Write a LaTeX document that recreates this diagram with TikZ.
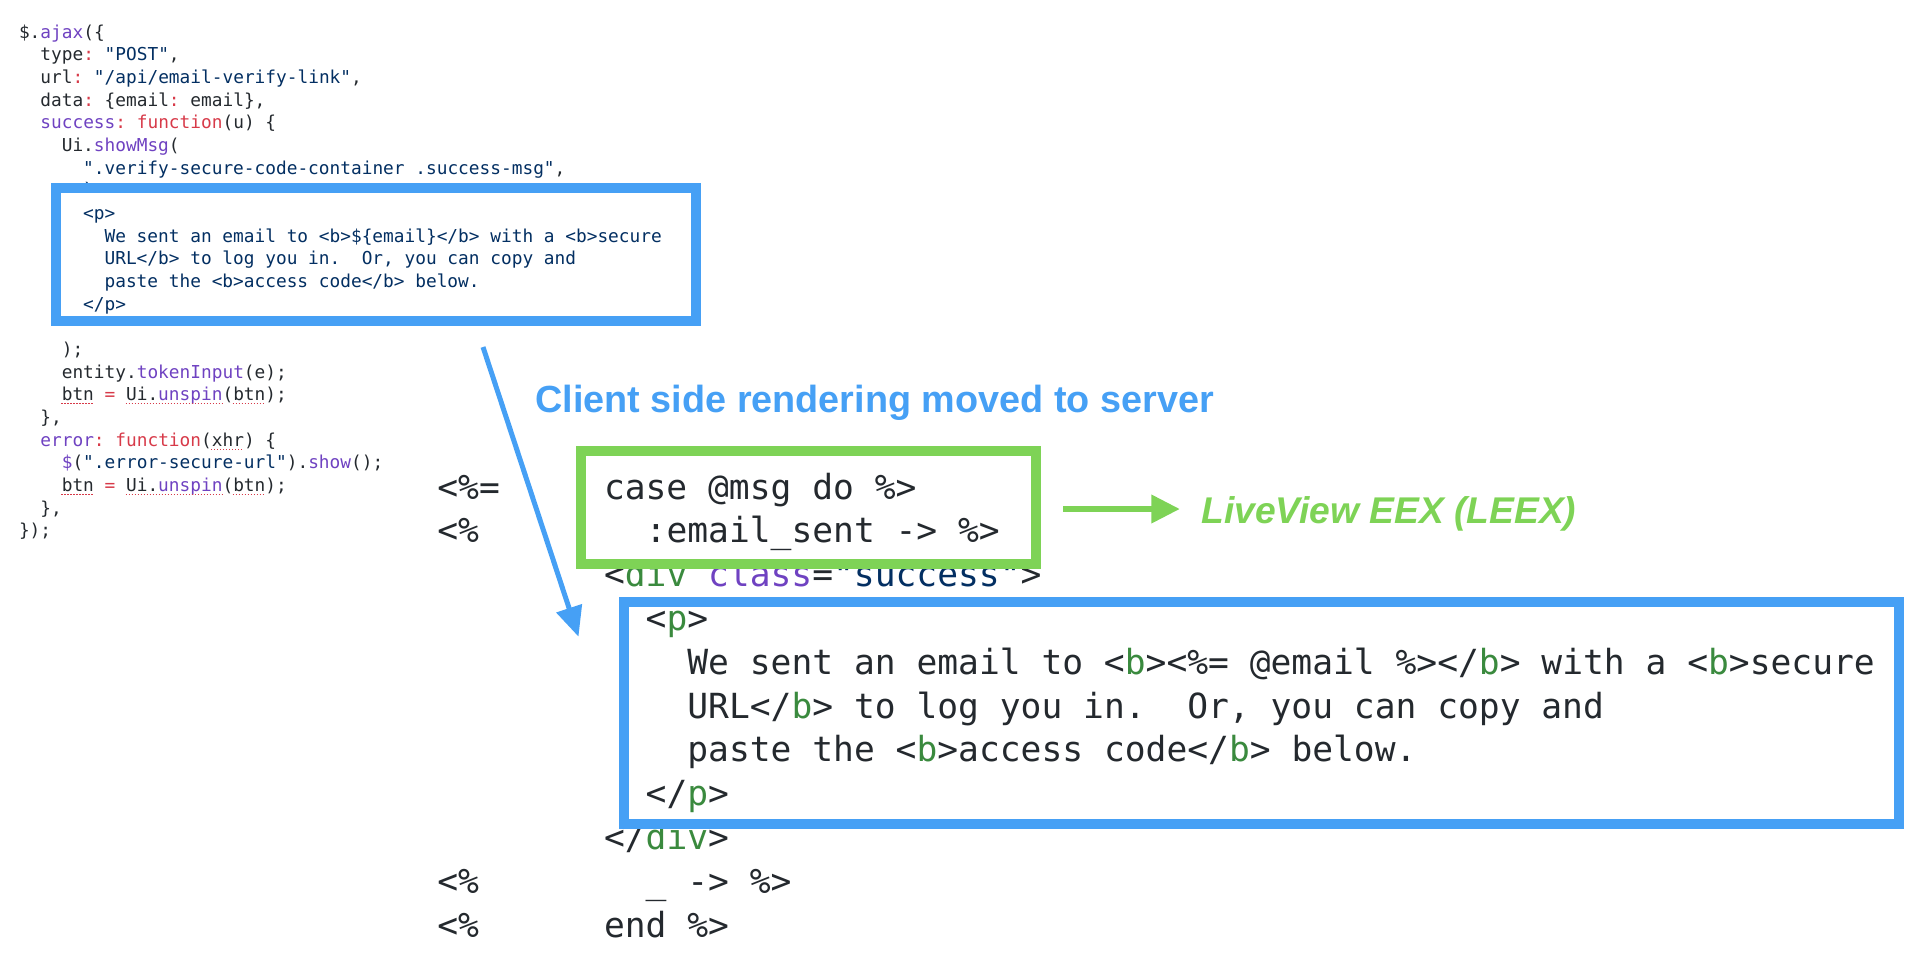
\documentclass[tikz,border=0pt]{standalone}
\usepackage{fontspec}
\setmonofont{DejaVu Sans Mono}
\setsansfont{Liberation Sans}
\usetikzlibrary{arrows.meta}
\definecolor{codedark}{HTML}{24292E}
\definecolor{codenavy}{HTML}{032F62}
\definecolor{codepurple}{HTML}{6F42C1}
\definecolor{codered}{HTML}{D73A49}
\definecolor{codegreen}{HTML}{3A8A3E}
\definecolor{boxblue}{HTML}{46A0F5}
\definecolor{boxgreen}{HTML}{7ED356}
\newcommand\jsfn[1]{\textcolor{codepurple}{#1}}
\newcommand\jsop[1]{\textcolor{codered}{#1}}
\newcommand\jsstr[1]{\textcolor{codenavy}{#1}}
\newcommand\htag[1]{\textcolor{codegreen}{#1}}
\begin{document}
\begin{tikzpicture}[x=0.5pt, y=-0.5pt,
    js/.style={anchor=base west, inner sep=0pt, text=codedark, font=\ttfamily\fontsize{8.9}{10}\selectfont},
    jsin/.style={js, text=codenavy},
    erb/.style={anchor=base west, inner sep=0pt, text=codedark, font=\ttfamily\fontsize{17.3}{20}\selectfont},
    codebox/.style={line width=5pt, fill=white},
    squiggle/.style={codered, line width=0.6pt, dash pattern=on 0.6pt off 0.9pt},
    hint/.style={anchor=base west, inner sep=0pt, font=\sffamily\bfseries\fontsize{18.9}{23}\selectfont}]
            \useasboundingbox (0,0) rectangle (1926,964);

            % client side code
            \node[js] (js0) at (18.6,38) {\$.\jsfn{ajax}(\{};
            \node[js] (js1) at (40,60.7) {type\jsop{:} \jsstr{"POST"},};
            \node[js] (js2) at (40,83.3) {url\jsop{:} \jsstr{"/api/email-verify-link"},};
            \node[js] (js3) at (40,106) {data\jsop{:} \{email\jsop{:} email\},};
            \node[js] (js4) at (40,128.7) {\jsfn{success}\jsop{:} \jsop{function}(u) \{};
            \node[js] (js5) at (61.4,151.4) {Ui.\jsfn{showMsg}(};
            \node[js] (js6) at (82.8,174) {\jsstr{".verify-secure-code-container .success-msg"},};
            \node[js] (js7) at (82.8,196.7) {\jsstr{`}};

            \draw[codebox, draw=boxblue] (56,188) rectangle (696,321);
            \node[jsin] (js8) at (82.8,219.4) {<p>};
            \node[jsin] (js9) at (104.2,242) {We sent an email to <b>\$\{email\}</b> with a <b>secure};
            \node[jsin] (js10) at (104.2,264.7) {URL</b> to log you in.\ \ Or, you can copy and};
            \node[jsin] (js11) at (104.2,287.4) {paste the <b>access code</b> below.};
            \node[jsin] (js12) at (82.8,310) {</p>};

            \node[js] (js14) at (61.4,355.4) {);};
            \node[js] (js15) at (61.4,378.1) {entity.\jsfn{tokenInput}(e);};
            \node[js] (js16) at (61.4,400.7) {btn \jsop{=} Ui.\jsfn{unspin}(btn);};
            \node[js] (js17) at (40,423.4) {\},};
            \node[js] (js18) at (40,446.1) {\jsfn{error}\jsop{:} \jsop{function}(xhr) \{};
            \node[js] (js19) at (61.4,468.7) {\jsfn{\$}(\jsstr{".error-secure-url"}).\jsfn{show}();};
            \node[js] (js20) at (61.4,491.4) {btn \jsop{=} Ui.\jsfn{unspin}(btn);};
            \node[js] (js21) at (40,514.1) {\},};
            \node[js] (js22) at (18.6,536.7) {\});};

            % spell check marks
            \draw[squiggle] (61.4,403.7) -- (93.5,403.7);
            \draw[squiggle] (125.6,403.7) -- (222,403.7);
            \draw[squiggle] (232.6,403.7) -- (264.7,403.7);
            \draw[squiggle] (211.2,449.1) -- (243.3,449.1);
            \draw[squiggle] (61.4,494.4) -- (93.5,494.4);
            \draw[squiggle] (125.6,494.4) -- (222,494.4);
            \draw[squiggle] (232.6,494.4) -- (264.7,494.4);

            % server side template
            \node[erb] (erb2) at (603.6,586.6) {<\htag{div} \textcolor{codepurple}{class}=\jsstr{"success"}>};
            \node[erb] (erb8) at (603.6,849.4) {</\htag{div}>};
            \draw[codebox, draw=boxgreen] (581,451) rectangle (1035.5,564);
            \draw[codebox, draw=boxblue] (624,602) rectangle (1899,824);

            \node[erb] (erbtag0) at (437,499) {<\%=};
            \node[erb] (erb0) at (603.6,499) {case @msg do \%>};
            \node[erb] (erbtag1) at (437,542.8) {<\%};
            \node[erb] (erb1) at (645.3,542.8) {:email\_sent -> \%>};
            \node[erb] (erb3) at (645.3,630.4) {<\htag{p}>};
            \node[erb] (erb4) at (687,674.2) {We sent an email to <\htag{b}><\%= @email \%></\htag{b}> with a <\htag{b}>secure};
            \node[erb] (erb5) at (687,718) {URL</\htag{b}> to log you in.\ \ Or, you can copy and};
            \node[erb] (erb6) at (687,761.8) {paste the <\htag{b}>access code</\htag{b}> below.};
            \node[erb] (erb7) at (645.3,805.6) {</\htag{p}>};
            \node[erb] (erbtag9) at (437,893.2) {<\%};
            \node[erb] (erb9) at (645.3,893.2) {\_ -> \%>};
            \node[erb] (erbtag10) at (437,937) {<\%};
            \node[erb] (erb10) at (603.6,937) {end \%>};

            % labels and arrows
            \node[hint, text=boxblue] (moved) at (535,412) {Client side rendering moved to server};
            \node[hint, text=boxgreen, font=\sffamily\bfseries\itshape\fontsize{18.6}{22}\selectfont] (leex) at (1201,523) {LiveView EEX (LEEX)};

            \coordinate (jsout) at (483,347);
            \coordinate (erbin) at (578.5,636.7);
            \coordinate (leexout) at (1063,509);
            \coordinate (leexin) at (1180,509);
            \draw[boxblue, line width=2.5pt, -{Triangle[length=15pt,width=13pt]}] (jsout) -- (erbin);
            \draw[boxgreen, line width=3.3pt, -{Triangle[length=14.3pt,width=13.5pt]}] (leexout) -- (leexin);
        \end{tikzpicture}
\end{document}
